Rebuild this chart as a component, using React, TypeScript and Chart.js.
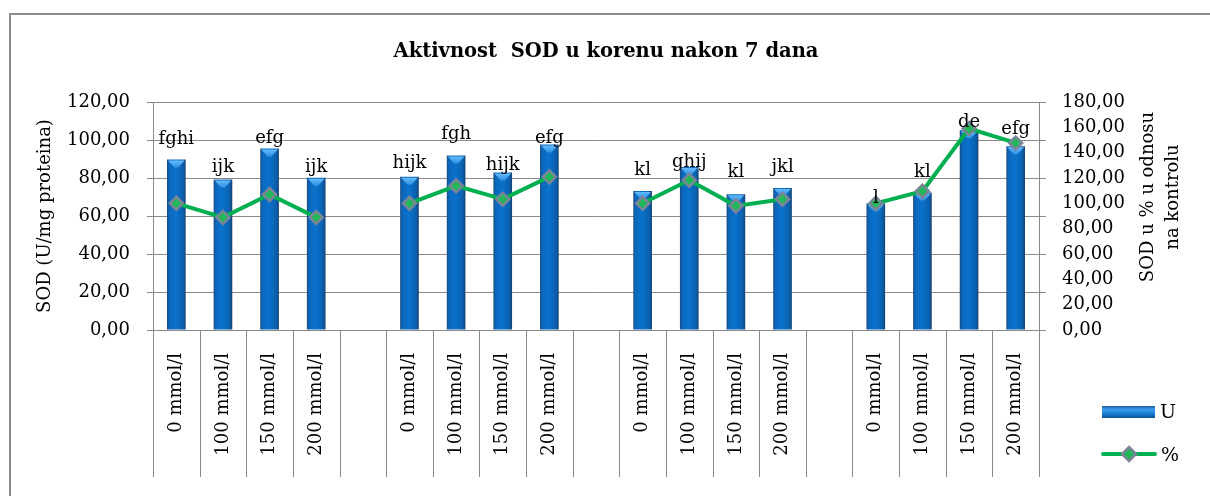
import React, { useEffect, useRef } from 'react';
import { Chart, registerables } from 'chart.js';

Chart.register(...registerables);

// ---------- data ----------
const doses = ['0 mmol/l', '100 mmol/l', '150 mmol/l', '200 mmol/l'];
const categories = [...doses, '', ...doses, '', ...doses, '', ...doses];

const sodU = [89.7, 79.2, 95.5, 80.1, null, 80.6, 91.8, 82.9, 97.6, null, 73.2, 85.8, 71.5, 74.8, null, 66.6, 72.4, 105.1, 96.7];
const sodPct = [100, 88.9, 107, 88.9, null, 100, 113.8, 103.3, 120.9, null, 100, 118.3, 98, 103.3, null, 100, 109.6, 159, 147.7];
const letters = ['fghi', 'ijk', 'efg', 'ijk', '', 'hijk', 'fgh', 'hijk', 'efg', '', 'kl', 'ghij', 'kl', 'jkl', '', 'l', 'kl', 'de', 'efg'];

const chartTitle = 'Aktivnost  SOD u korenu nakon 7 dana';
const leftTitle = 'SOD (U/mg proteina)';
const rightTitle = ['SOD u % u odnosu', 'na kontrolu'];
const legendLabels = ['U', '%'];

// ---------- style ----------
const FONT = '"DejaVu Serif", serif';
const FS = 18;
const GRID = '#8a8a8a';
const GREEN = '#00b050';
// baseline lift of each letter label above its bar top (px)
const letterLift = [16, 8, 6, 6, 0, 9, 17, 2, 2, 0, 16, 0, 17, 16, 0, 0, 15, 3, 12];

const fmt = (v: number) => v.toFixed(2).replace('.', ',');
const ok = (...v: number[]) => v.every((n) => Number.isFinite(n));

function barGradient(ctx: CanvasRenderingContext2D, x0: number, x1: number) {
  const g = ctx.createLinearGradient(x0, 0, x1, 0);
  g.addColorStop(0, '#1b4a7c');
  g.addColorStop(0.12, '#0b67bd');
  g.addColorStop(0.45, '#0a72cc');
  g.addColorStop(0.85, '#0a61b0');
  g.addColorStop(1, '#17426f');
  return g;
}

function diamond(ctx: CanvasRenderingContext2D, x: number, y: number, r: number) {
  ctx.beginPath();
  ctx.moveTo(x, y - r);
  ctx.lineTo(x + r, y);
  ctx.lineTo(x, y + r);
  ctx.lineTo(x - r, y);
  ctx.closePath();
  ctx.fillStyle = '#22b85a';
  ctx.fill();
  ctx.lineWidth = 2.5;
  ctx.strokeStyle = '#7b8597';
  ctx.stroke();
}

const decor = {
  id: 'decor',
  beforeDraw(chart: any) {
    const ctx = chart.ctx as CanvasRenderingContext2D;
    ctx.save();
    ctx.fillStyle = '#fff';
    ctx.fillRect(0, 0, chart.width, chart.height);
    ctx.strokeStyle = '#8c8c8c';
    ctx.lineWidth = 2;
    ctx.beginPath();
    ctx.moveTo(10, chart.height + 2);
    ctx.lineTo(10, 14);
    ctx.lineTo(chart.width + 2, 14);
    ctx.stroke();
    ctx.restore();
  },
  afterDatasetDraw(chart: any, args: any) {
    if (args.index !== 1) return;
    const ctx = chart.ctx as CanvasRenderingContext2D;
    const meta = chart.getDatasetMeta(1);
    ctx.save();
    meta.data.forEach((el: any, i: number) => {
      if (sodU[i] == null) return;
      const { x, y, width } = el.getProps(['x', 'y', 'width'], true);
      if (!ok(x, y, width)) return;
      const l = x - width / 2, r = x + width / 2;
      const g = ctx.createLinearGradient(0, y, 0, y + 8);
      g.addColorStop(0, '#6cc0ff');
      g.addColorStop(1, '#2e8fe0');
      ctx.fillStyle = g;
      ctx.beginPath();
      ctx.moveTo(l + 1, y + 1);
      ctx.lineTo(r - 1, y + 1);
      ctx.lineTo(x + 2, y + 8);
      ctx.lineTo(x - 2, y + 8);
      ctx.closePath();
      ctx.fill();
    });
    ctx.restore();
  },
  afterDatasetsDraw(chart: any) {
    const ctx = chart.ctx as CanvasRenderingContext2D;
    const meta = chart.getDatasetMeta(1);
    ctx.save();
    ctx.font = `${FS}px ${FONT}`;
    ctx.fillStyle = '#000';
    ctx.textAlign = 'center';
    ctx.textBaseline = 'alphabetic';
    meta.data.forEach((el: any, i: number) => {
      if (!letters[i] || sodU[i] == null) return;
      const { x, y } = el.getProps(['x', 'y'], true);
      if (!ok(x, y)) return;
      ctx.fillText(letters[i], x, y - letterLift[i]);
    });
    ctx.restore();
  },
  afterDraw(chart: any) {
    const ctx = chart.ctx as CanvasRenderingContext2D;
    const ca = chart.chartArea;
    const xs = chart.scales.x;
    const yl = chart.scales.y;
    ctx.save();
    const step = xs.getPixelForValue(1) - xs.getPixelForValue(0);
    ctx.strokeStyle = GRID;
    ctx.lineWidth = 1;
    ctx.beginPath();
    for (let i = 0; i <= categories.length; i++) {
      const x = Math.round(xs.getPixelForValue(i) - step / 2) + 0.5;
      ctx.moveTo(x, ca.bottom);
      ctx.lineTo(x, 477);
    }
    yl.ticks.forEach((t: any) => {
      const y = Math.round(yl.getPixelForValue(t.value)) + 0.5;
      ctx.moveTo(ca.right, y);
      ctx.lineTo(ca.right + 7, y);
    });
    ctx.stroke();

    ctx.fillStyle = '#000';
    ctx.font = `bold 19.5px ${FONT}`;
    ctx.textAlign = 'center';
    ctx.textBaseline = 'middle';
    ctx.fillText(chartTitle, 606, 52);

    ctx.font = `${FS}px ${FONT}`;
    ctx.save();
    ctx.translate(45, (ca.top + ca.bottom) / 2);
    ctx.rotate(-Math.PI / 2);
    ctx.fillText(leftTitle, 0, 0);
    ctx.restore();
    rightTitle.forEach((line, k) => {
      ctx.save();
      ctx.translate(1148 + k * 25, 197);
      ctx.rotate(-Math.PI / 2);
      ctx.fillText(line, 0, 0);
      ctx.restore();
    });

    const lx = 1102, lw = 53;
    const lg = ctx.createLinearGradient(0, 406, 0, 418);
    lg.addColorStop(0, '#1e5d9c');
    lg.addColorStop(0.3, '#3aa0f0');
    lg.addColorStop(0.7, '#1677cc');
    lg.addColorStop(1, '#0d4f8e');
    ctx.fillStyle = lg;
    ctx.fillRect(lx, 406, lw, 12);
    ctx.strokeStyle = GREEN;
    ctx.lineWidth = 4;
    ctx.lineCap = 'round';
    ctx.beginPath();
    ctx.moveTo(lx + 1, 454);
    ctx.lineTo(lx + lw, 454);
    ctx.stroke();
    diamond(ctx, lx + 27, 454, 7);
    ctx.fillStyle = '#000';
    ctx.textAlign = 'left';
    ctx.font = `${FS + 1}px ${FONT}`;
    ctx.fillText(legendLabels[0], 1160, 413);
    ctx.fillText(legendLabels[1], 1161, 456);
    ctx.restore();
  },
};

export default function App() {
  const ref = useRef<HTMLCanvasElement | null>(null);
  useEffect(() => {
    document.body.style.margin = '0';
    const canvas = ref.current!;
    const chart = new Chart(canvas, {
      type: 'bar',
      data: {
        labels: categories,
        datasets: [
          {
            type: 'line',
            label: legendLabels[1],
            data: sodPct as any,
            yAxisID: 'y1',
            borderColor: GREEN,
            borderWidth: 4,
            spanGaps: false,
            pointStyle: 'rectRot',
            pointRadius: 6.5,
            pointHoverRadius: 6.5,
            pointBorderWidth: 2.5,
            pointBorderColor: '#7b8597',
            pointBackgroundColor: '#22b85a',
            order: 0,
          } as any,
          {
            type: 'bar',
            label: legendLabels[0],
            data: sodU as any,
            yAxisID: 'y',
            barPercentage: 0.4,
            categoryPercentage: 1,
            backgroundColor: (c: any) => {
              const xs = c.chart.scales?.x;
              if (!xs || c.dataIndex == null) return '#0a6cc4';
              const cx = xs.getPixelForValue(c.dataIndex);
              const w = (xs.width / categories.length) * 0.4;
              if (!ok(cx, w) || w <= 0) return '#0a6cc4';
              return barGradient(c.chart.ctx, cx - w / 2, cx + w / 2);
            },
            borderWidth: 0,
            order: 1,
          } as any,
        ],
      },
      options: {
        responsive: false,
        animation: false,
        devicePixelRatio: 1,
        events: [],
        layout: { padding: { top: 102, left: 0, right: 0, bottom: 0 } },
        plugins: {
          legend: { display: false },
          title: { display: false },
          tooltip: { enabled: false },
        },
        scales: {
          x: {
            grid: { display: false, drawTicks: false },
            border: { display: false },
            ticks: {
              autoSkip: false,
              maxRotation: 90,
              minRotation: 90,
              padding: 23,
              color: '#000',
              font: { family: FONT, size: FS },
            },
            afterFit: (s: any) => { s.height = 166; },
          },
          y: {
            position: 'left',
            min: 0,
            max: 120,
            ticks: {
              stepSize: 20,
              padding: 17,
              color: '#000',
              font: { family: FONT, size: FS },
              callback: (v: any) => fmt(Number(v)),
            },
            grid: { color: GRID, lineWidth: 1, drawTicks: true, tickLength: 6, tickColor: GRID },
            border: { display: true, color: GRID, width: 1 },
            afterFit: (s: any) => { s.width = 153; },
          },
          y1: {
            position: 'right',
            min: 0,
            max: 180,
            ticks: {
              stepSize: 20,
              padding: 23,
              color: '#000',
              font: { family: FONT, size: FS },
              callback: (v: any) => fmt(Number(v)),
            },
            grid: { display: false, drawTicks: false, drawOnChartArea: false },
            border: { display: true, color: GRID, width: 1 },
            afterFit: (s: any) => { s.width = 171; },
          },
        },
      },
      plugins: [decor],
    });
    return () => chart.destroy();
  }, []);
  return (
    <div style={{ position: 'absolute', left: 0, top: 0, width: 1210, height: 496 }}>
      <canvas ref={ref} width={1210} height={496} style={{ width: 1210, height: 496, display: 'block' }} />
    </div>
  );
}
